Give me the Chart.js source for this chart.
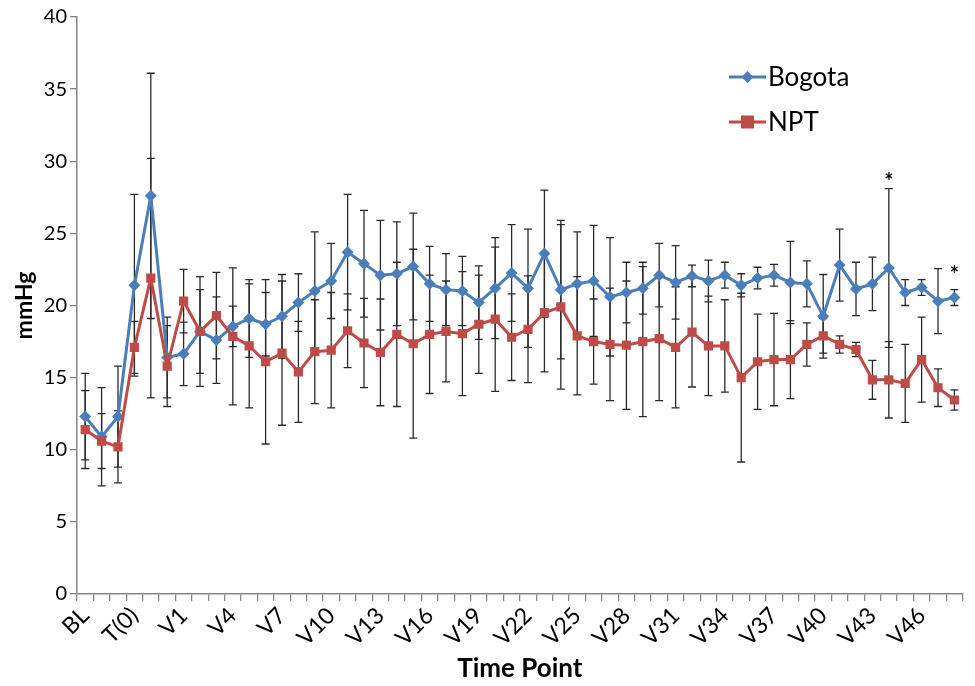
<!DOCTYPE html>
<html>
<head>
<meta charset="utf-8">
<script src="https://cdn.jsdelivr.net/npm/chart.js@4.4.1/dist/chart.umd.min.js"></script>
<style>
  html, body { margin: 0; padding: 0; background: #fff; }
  #wrap { width: 975px; height: 686px; }
</style>
</head>
<body>
<div id="wrap"><canvas id="chart-bp" width="975" height="686"></canvas></div>
<script>
// time points (only every 3rd is labelled on the axis)
var labels = ["BL", "T(-2)", "T(-1)", "T(0)", "T(1)", "T(2)"];
for (var n = 1; n <= 48; n++) labels.push("V" + n);

var bogota = [12.3, 10.9, 12.3, 21.4, 27.6, 16.4, 16.65, 18.2, 17.6, 18.55,
  19.1, 18.7, 19.25, 20.2, 21.0, 21.7, 23.7, 22.9, 22.1, 22.2,
  22.7, 21.5, 21.1, 21.0, 20.2, 21.2, 22.25, 21.2, 23.6, 21.1,
  21.5, 21.7, 20.6, 20.9, 21.2, 22.1, 21.6, 22.05, 21.7, 22.1,
  21.4, 21.9, 22.1, 21.6, 21.5, 19.25, 22.8, 21.15, 21.5, 22.6,
  20.9, 21.25, 20.3, 20.55];
var bogotaErr = [3.0, 3.4, 3.5, 6.3, 8.5, 2.8, 2.2, 3.8, 3.0, 1.4,
  2.7, 2.2, 2.9, 2.0, 4.1, 2.6, 4.0, 3.7, 3.8, 3.6,
  3.7, 2.6, 2.5, 2.4, 2.55, 3.5, 3.35, 4.1, 4.4, 4.8,
  3.6, 3.85, 4.1, 2.1, 1.8, 2.2, 2.55, 0.75, 1.45, 0.9,
  0.8, 0.75, 0.75, 2.85, 1.6, 2.9, 2.5, 1.85, 1.85, 5.5,
  0.9, 0.55, 2.25, 0.55];

var npt = [11.4, 10.6, 10.2, 17.1, 21.9, 15.8, 20.3, 18.2, 19.3, 17.86,
  17.2, 16.1, 16.7, 15.4, 16.8, 16.9, 18.25, 17.4, 16.75, 18.0,
  17.35, 18.0, 18.2, 18.05, 18.7, 19.05, 17.8, 18.35, 19.5, 19.9,
  17.9, 17.5, 17.3, 17.25, 17.5, 17.7, 17.1, 18.15, 17.2, 17.2,
  15.0, 16.1, 16.25, 16.25, 17.3, 17.9, 17.3, 16.95, 14.85, 14.85,
  14.6, 16.25, 14.3, 13.45];
var nptErr = [2.7, 1.9, 2.5, 1.8, 8.3, 2.8, 2.2, 2.9, 3.0, 4.75,
  4.3, 5.7, 5.0, 3.5, 3.6, 4.0, 2.55, 3.1, 3.7, 5.0,
  6.55, 4.1, 3.5, 4.3, 3.4, 5.0, 3.0, 3.7, 4.1, 5.7,
  4.1, 2.95, 3.9, 4.45, 5.2, 4.3, 4.2, 3.8, 3.45, 3.2,
  5.85, 3.3, 3.2, 2.7, 1.5, 1.2, 0.6, 0.5, 1.35, 2.65,
  2.7, 2.95, 1.3, 0.7];

// significance marks
var starIndex = [49, 53];
var starValue = [28.9, 22.5];

var blue = "#4a7ebb";
var red = "#be4b48";
var fontName = "Lato, 'Open Sans', sans-serif";

// error bars, drawn under the lines
var errorBars = {
  id: "errorBars",
  beforeDatasetsDraw: function(chart) {
    var c = chart.ctx, xs = chart.scales.x, ys = chart.scales.y;
    var sets = [[bogota, bogotaErr], [npt, nptErr]];
    c.save();
    c.strokeStyle = "#2a2a2a";
    c.lineWidth = 1.3;
    sets.forEach(function(s) {
      s[0].forEach(function(v, i) {
        var x = xs.getPixelForValue(i);
        var t = ys.getPixelForValue(v + s[1][i]);
        var b = ys.getPixelForValue(v - s[1][i]);
        c.beginPath();
        c.moveTo(x, t); c.lineTo(x, b);
        c.moveTo(x - 4, t); c.lineTo(x + 4, t);
        c.moveTo(x - 4, b); c.lineTo(x + 4, b);
        c.stroke();
      });
    });
    c.restore();
  },
  afterDatasetsDraw: function(chart) {
    var c = chart.ctx, xs = chart.scales.x, ys = chart.scales.y;
    c.save();
    c.fillStyle = "#000";
    c.font = "bold 22px " + fontName;
    c.textAlign = "center";
    c.textBaseline = "middle";
    starIndex.forEach(function(idx, k) {
      c.fillText("*", xs.getPixelForValue(idx), ys.getPixelForValue(starValue[k]) + 5);
    });
    c.restore();
  }
};

// legend with line + marker, like the original
var lineLegend = {
  id: "lineLegend",
  afterDraw: function(chart) {
    var c = chart.ctx;
    var items = [
      { text: "Bogota", color: blue, shape: "diamond", y: 77 },
      { text: "NPT", color: red, shape: "square", y: 122 }
    ];
    c.save();
    items.forEach(function(it) {
      c.strokeStyle = it.color;
      c.fillStyle = it.color;
      c.lineWidth = 3;
      c.beginPath();
      c.moveTo(729, it.y); c.lineTo(766, it.y);
      c.stroke();
      c.beginPath();
      if (it.shape === "diamond") {
        c.moveTo(747.5, it.y - 6); c.lineTo(753.5, it.y);
        c.lineTo(747.5, it.y + 6); c.lineTo(741.5, it.y);
        c.closePath();
      } else {
        c.rect(741, it.y - 6.5, 13, 13);
      }
      c.fill();
      c.fillStyle = "#000";
      c.font = "26px " + fontName;
      c.textBaseline = "middle";
      c.fillText(it.text, 768, it.y + 1);
    });
    c.restore();
  }
};

var ctx = document.getElementById("chart-bp").getContext("2d");
var chart = new Chart(ctx, {
  type: "line",
  data: {
    labels: labels,
    datasets: [
      {
        label: "Bogota",
        data: bogota,
        borderColor: blue,
        backgroundColor: blue,
        borderWidth: 3,
        pointStyle: "rectRot",
        pointRadius: 6,
        pointBorderWidth: 0,
        tension: 0,
        order: 1
      },
      {
        label: "NPT",
        data: npt,
        borderColor: red,
        backgroundColor: red,
        borderWidth: 3,
        pointStyle: "rect",
        pointRadius: 6.5,
        pointBorderWidth: 0,
        tension: 0,
        order: 0
      }
    ]
  },
  options: {
    responsive: false,
    animation: false,
    layout: { padding: { top: 17, right: 7, left: 0, bottom: 0 } },
    plugins: {
      legend: { display: false },
      tooltip: { enabled: false }
    },
    scales: {
      x: {
        offset: true,
        grid: { offset: true, drawOnChartArea: false, color: "#868686", tickLength: 7, lineWidth: 1.3 },
        border: { color: "#868686", width: 1.5 },
        ticks: {
          autoSkip: false,
          maxRotation: 45,
          minRotation: 45,
          padding: 1,
          color: "#000",
          font: { family: fontName, size: 23 },
          callback: function(v, i) { return i % 3 === 0 ? labels[i] : ""; }
        },
        title: {
          display: true,
          text: "Time Point",
          color: "#000",
          font: { family: fontName, size: 26, weight: "bold" },
          padding: { top: 0, bottom: 2 }
        },
        afterFit: function(s) { s.height = 92; }
      },
      y: {
        min: 0,
        max: 40,
        grid: { drawOnChartArea: false, color: "#868686", tickLength: 7, lineWidth: 1.3 },
        border: { color: "#868686", width: 1.5 },
        ticks: {
          stepSize: 5,
          padding: 3,
          color: "#000",
          font: { family: fontName, size: 20 }
        },
        title: {
          display: true,
          text: "mmHg",
          color: "#000",
          font: { family: fontName, size: 23, weight: "bold" },
          padding: { top: 11, bottom: 0 }
        },
        afterFit: function(s) { s.width = 77; }
      }
    }
  },
  plugins: [errorBars, lineLegend]
});
</script>
</body>
</html>
